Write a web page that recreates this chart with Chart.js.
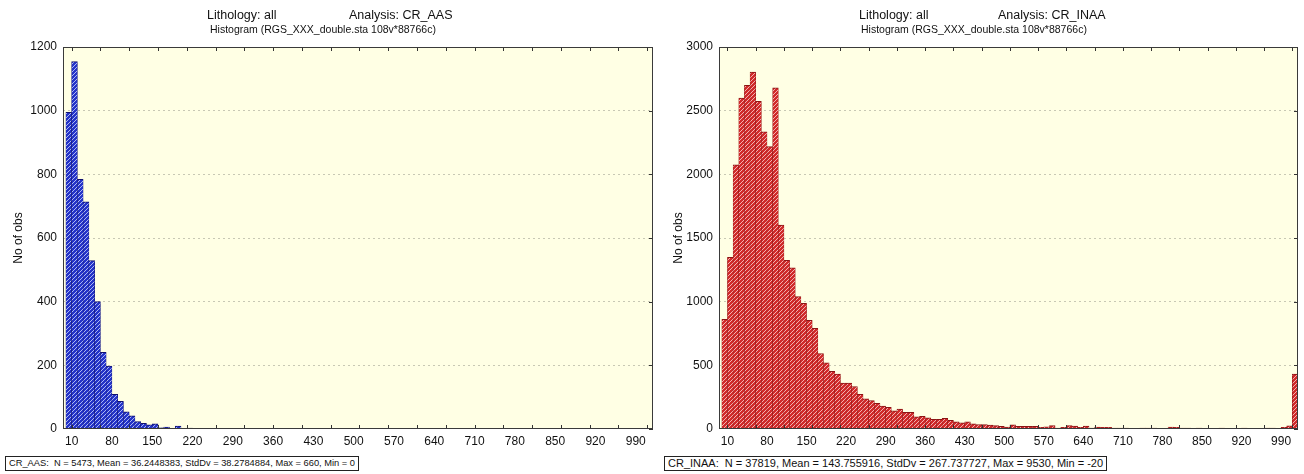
<!DOCTYPE html>
<html><head><meta charset="utf-8">
<script src="https://cdn.jsdelivr.net/npm/chart.js@4.4.1/dist/chart.umd.min.js"></script>
<style>
html,body{margin:0;padding:0;background:#fff;width:1304px;height:474px;overflow:hidden;font-family:"Liberation Sans",Arial,sans-serif;color:#111}
.box{position:absolute;top:0;height:455px}
.t{position:absolute;white-space:pre;font-size:12.5px;line-height:14px;top:8px}
.s{position:absolute;white-space:pre;font-size:10.5px;line-height:12px;top:23px}
.foot{position:absolute;white-space:pre;border:1px solid #222;background:#fff;line-height:13px;padding:0 3px;top:456px}
</style></head><body>
<div class="box" style="left:0;width:660px"><canvas id="c1"></canvas></div>
<div class="box" style="left:660px;width:644px"><canvas id="c2"></canvas></div>
<div class="t" style="left:207px">Lithology: all</div>
<div class="t" style="left:349px">Analysis: CR_AAS</div>
<div class="s" style="left:210px">Histogram (RGS_XXX_double.sta 108v*88766c)</div>
<div class="t" style="left:859px">Lithology: all</div>
<div class="t" style="left:998px">Analysis: CR_INAA</div>
<div class="s" style="left:861px">Histogram (RGS_XXX_double.sta 108v*88766c)</div>
<div class="foot" style="left:5px;font-size:9.3px">CR_AAS:  N = 5473, Mean = 36.2448383, StdDv = 38.2784884, Max = 660, Min = 0</div>
<div class="foot" style="left:664px;font-size:11px">CR_INAA:  N = 37819, Mean = 143.755916, StdDv = 267.737727, Max = 9530, Min = -20</div>
<script>
// bin lower edges (bin width 10); last bin is the overflow bin
const binStart = [0,10,20,30,40,50,60,70,80,90,100,110,120,130,140,150,160,170,180,190,
  200,210,220,230,240,250,260,270,280,290,300,310,320,330,340,350,360,370,380,390,
  400,410,420,430,440,450,460,470,480,490,500,510,520,530,540,550,560,570,580,590,
  600,610,620,630,640,650,660,670,680,690,700,710,720,730,740,750,760,770,780,790,
  800,810,820,830,840,850,860,870,880,890,900,910,920,930,940,950,960,970,980,990,
  1000,1010];
const countsAAS = [995,1154,784,714,529,400,241,198,109,87,54,41,23,18,13,16,4,6,1,9,
  1,3,1,0,0,0,0,0,0,0,0,0,0,0,0,0,0,0,0,0,
  0,0,0,0,0,0,0,0,0,0,0,0,0,0,0,0,0,0,0,0,
  0,0,0,0,0,0,0,0,0,0,0,0,0,0,0,0,0,0,0,0,
  0,0,0,0,0,0,0,0,0,0,0,0,0,0,0,0,0,0,0,0,
  0,0];
const countsINAA = [862,1348,2075,2598,2698,2804,2574,2334,2217,2680,1602,1324,1266,1039,986,854,791,593,519,453,
  431,360,360,334,273,236,223,202,180,170,143,157,130,130,96,99,88,75,75,83,
  69,56,48,56,40,35,35,30,26,21,16,33,21,21,21,21,13,18,26,8,
  13,26,23,13,23,8,16,13,13,8,8,8,5,3,8,8,8,3,3,16,
  13,8,8,3,8,5,3,3,8,5,3,5,8,3,3,3,8,8,3,13,
  24,432];
const xTickLabels = [10,80,150,220,290,360,430,500,570,640,710,780,850,920,990];
const yTicksAAS = [0,200,400,600,800,1000,1200];
const yTicksINAA = [0,500,1000,1500,2000,2500,3000];

const FONT = '"Liberation Sans", Arial, sans-serif';
Chart.defaults.font.family = FONT;
Chart.defaults.color = '#111';

function hatch(base, line){
  const c = document.createElement('canvas'); c.width = 4; c.height = 4;
  const g = c.getContext('2d');
  g.fillStyle = base; g.fillRect(0,0,4,4);
  g.strokeStyle = line; g.lineWidth = 1;
  g.beginPath();
  g.moveTo(0,4); g.lineTo(4,0);
  g.moveTo(-1,1); g.lineTo(1,-1);
  g.moveTo(3,5); g.lineTo(5,3);
  g.stroke();
  return g.createPattern(c,'repeat');
}

const framePlugin = {
  id:'frame',
  beforeDraw(chart){
    const a = chart.chartArea, ctx = chart.ctx;
    ctx.save(); ctx.fillStyle = '#ffffe4';
    ctx.fillRect(a.left, a.top, a.right-a.left, a.bottom-a.top);
    ctx.restore();
  },
  afterDatasetsDraw(chart){
    const a = chart.chartArea, ctx = chart.ctx, xs = chart.scales.x, ys = chart.scales.y;
    ctx.save();
    ctx.strokeStyle = '#333'; ctx.lineWidth = 1;
    ctx.beginPath();
    for (let v = 10; v <= 1010; v += 50){
      const px = Math.round(xs.getPixelForValue(v)) + 0.5;
      ctx.moveTo(px, a.top); ctx.lineTo(px, a.top + 4);
      ctx.moveTo(px, a.bottom); ctx.lineTo(px, a.bottom - 4);
    }
    ys.ticks.forEach(t => {
      const py = Math.round(ys.getPixelForValue(t.value)) + 0.5;
      ctx.moveTo(a.right, py); ctx.lineTo(a.right - 4, py);
    });
    ctx.stroke();
    ctx.strokeStyle = '#3a3a3a';
    ctx.strokeRect(Math.round(a.left)+0.5, Math.round(a.top)+0.5, Math.round(a.right-a.left)-1, Math.round(a.bottom-a.top)-1);
    ctx.restore();
  }
};

function makeChart(id, counts, yTicks, fill, line, border, yWidth, padRight){
  const ymax = yTicks[yTicks.length-1];
  return new Chart(document.getElementById(id), {
    type:'bar',
    data:{ datasets:[{
      data: counts.map((c,i)=>({x: binStart[i] + 5, y: c})),
      backgroundColor: hatch(fill, line),
      borderColor: border,
      borderWidth: {top:1, left:0.5, right:0.5, bottom:0},
      borderSkipped: false,
      barPercentage: 1, categoryPercentage: 1
    }]},
    options:{
      responsive:true, maintainAspectRatio:false, animation:false,
      layout:{padding:{left:0, right:padRight, top:47, bottom:0}},
      plugins:{legend:{display:false}, tooltip:{enabled:false}, title:{display:false}},
      scales:{
        x:{ type:'linear', min:-5, max:1020, offset:false,
          afterBuildTicks: s => { s.ticks = xTickLabels.map(v => ({value:v})); },
          afterFit: s => { s.height = 26; },
          grid:{display:false, drawTicks:false}, border:{display:false},
          ticks:{autoSkip:false, maxRotation:0, minRotation:0, padding:5, font:{size:12}, color:'#111',
                 callback: v => String(v)} },
        y:{ min:0, max:ymax,
          afterBuildTicks: s => { s.ticks = yTicks.map(v => ({value:v})); },
          afterFit: s => { s.width = yWidth; },
          grid:{ drawTicks:false, color: c => (c.tick && (c.tick.value === 0 || c.tick.value === ymax)) ? 'rgba(0,0,0,0)' : '#c8c8b4', lineWidth:1 },
          border:{display:false, dash:[2,3]},
          ticks:{padding:6, font:{size:12}, color:'#111', callback: v => String(v)},
          title:{display:true, text:'No of obs', font:{size:12}, color:'#111', padding:{top:11, bottom:0}} }
      }
    },
    plugins:[framePlugin]
  });
}

makeChart('c1', countsAAS, yTicksAAS, '#2433c8', '#aab6f4', '#10106e', 63, 7);
makeChart('c2', countsINAA, yTicksINAA, '#d02a2a', '#f4b0b0', '#8a1414', 59, 6);
</script>
</body></html>
